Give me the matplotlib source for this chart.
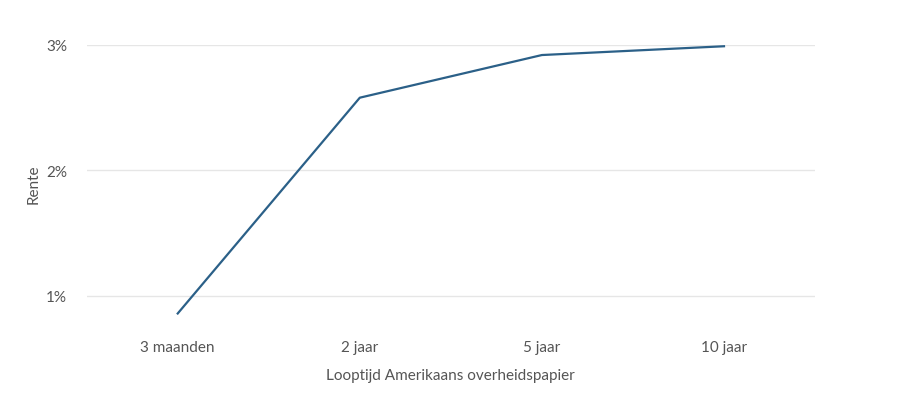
import matplotlib.pyplot as plt
from matplotlib.ticker import FuncFormatter

# data
looptijden = ['3 maanden', '2 jaar', '5 jaar', '10 jaar']
rente = [0.86, 2.58, 2.92, 2.99]
y_ticks = [1, 2, 3]

plt.rcParams['font.family'] = ['Lato', 'DejaVu Sans']
text_col = '#555555'

fig = plt.figure(figsize=(9, 4.14), dpi=100)
ax = fig.add_axes([0.0963, 0.2222, 0.8093, 0.6667])

x = list(range(len(looptijden)))
ax.plot(x, rente, color='#2b6088', linewidth=1.6, clip_on=False, zorder=3)

ax.set_xlim(-0.5, len(looptijden) - 0.5)
ax.set_ylim(0.8, 3.0)
ax.set_xticks(x)
ax.set_xticklabels(looptijden)
ax.set_yticks(y_ticks)
ax.yaxis.set_major_formatter(FuncFormatter(lambda v, p: f'{v:.0f}%'))

ax.grid(axis='y', color='#e6e6e6', linewidth=1)
ax.set_axisbelow(True)
for s in ax.spines.values():
    s.set_visible(False)
ax.tick_params(length=0, colors=text_col, labelsize=11)
ax.tick_params(axis='x', pad=14)
ax.tick_params(axis='y', pad=14)

ax.set_xlabel('Looptijd Amerikaans overheidspapier', color=text_col, fontsize=11, labelpad=10)
ax.set_ylabel('Rente', color=text_col, fontsize=11, labelpad=4)

fig.savefig('out.png', dpi=100)
